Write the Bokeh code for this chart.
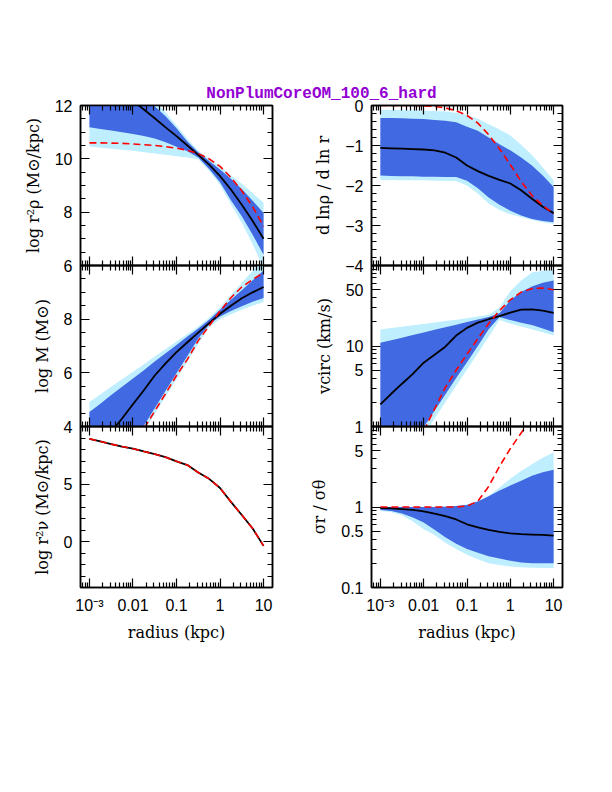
from bokeh.plotting import figure
from bokeh.models import (Range1d, FixedTicker, LinearAxis, LogAxis,
                          CustomJSTickFormatter, Label)
from bokeh.layouts import column, row
from bokeh.embed import file_html
from bokeh.resources import INLINE

TITLE = "NonPlumCoreOM_100_6_hard"

radius = [0.001, 0.00178, 0.00316, 0.00562, 0.01, 0.0178, 0.0316, 0.0562,
          0.1, 0.178, 0.316, 0.562, 1.0, 1.78, 3.16, 5.62, 10.0]

rho_med = [13.4, 13.1, 12.8, 12.5, 12.18, 11.85, 11.52, 11.18, 10.85, 10.5, 10.15, 9.78, 9.35, 8.85, 8.28, 7.67, 7.0]
rho_hi68 = [14.2, 13.9, 13.6, 13.3, 12.9, 12.4, 11.97, 11.6, 11.15, 10.65, 10.25, 9.92, 9.6, 9.25, 8.87, 8.43, 7.97]
rho_lo68 = [11.18, 11.12, 11.06, 11.0, 10.93, 10.86, 10.76, 10.62, 10.45, 10.28, 10.05, 9.62, 9.12, 8.45, 7.85, 7.15, 6.4]
rho_hi95 = [14.4, 14.1, 13.8, 13.5, 13.1, 12.6, 12.15, 11.75, 11.25, 10.75, 10.3, 10.0, 9.72, 9.38, 9.07, 8.72, 8.35]
rho_lo95 = [10.46, 10.42, 10.38, 10.34, 10.3, 10.25, 10.2, 10.15, 10.1, 10.05, 9.98, 9.55, 9.02, 8.3, 7.6, 6.8, 5.9]
rho_true = [10.6, 10.6, 10.59, 10.58, 10.56, 10.53, 10.5, 10.46, 10.4, 10.32, 10.2, 10.0, 9.72, 9.3, 8.8, 8.2, 7.47]

slope_med = [-1.06, -1.07, -1.08, -1.09, -1.1, -1.12, -1.18, -1.3, -1.5, -1.64, -1.76, -1.86, -1.95, -2.12, -2.33, -2.53, -2.69]
slope_hi68 = [-0.31, -0.31, -0.32, -0.33, -0.34, -0.36, -0.38, -0.42, -0.53, -0.63, -0.8, -0.97, -1.12, -1.3, -1.5, -1.75, -2.04]
slope_lo68 = [-1.75, -1.76, -1.77, -1.77, -1.78, -1.78, -1.79, -1.79, -1.88, -2.07, -2.3, -2.48, -2.63, -2.75, -2.84, -2.89, -2.92]
slope_hi95 = [-0.11, -0.11, -0.12, -0.12, -0.13, -0.14, -0.15, -0.18, -0.24, -0.33, -0.47, -0.6, -0.75, -0.98, -1.24, -1.55, -1.87]
slope_lo95 = [-1.86, -1.86, -1.87, -1.87, -1.87, -1.88, -1.88, -1.89, -2.0, -2.2, -2.45, -2.61, -2.72, -2.79, -2.86, -2.92, -2.96]
slope_true = [0.0, 0.0, 0.0, 0.0, -0.01, -0.02, -0.06, -0.13, -0.25, -0.44, -0.73, -1.08, -1.48, -1.9, -2.25, -2.5, -2.71]

mass_med = [2.8, 3.3, 3.8, 4.3, 4.83, 5.35, 5.9, 6.35, 6.77, 7.14, 7.5, 7.85, 8.2, 8.5, 8.78, 9.0, 9.2]
mass_hi68 = [4.54, 4.85, 5.17, 5.48, 5.79, 6.1, 6.42, 6.73, 7.04, 7.35, 7.65, 7.98, 8.35, 8.72, 9.08, 9.45, 9.81]
mass_lo68 = [0.8, 1.45, 2.1, 2.75, 3.4, 4.03, 4.68, 5.33, 5.98, 6.63, 7.28, 7.8, 8.1, 8.3, 8.48, 8.65, 8.79]
mass_hi95 = [4.91, 5.19, 5.48, 5.76, 6.04, 6.32, 6.61, 6.89, 7.17, 7.45, 7.73, 8.05, 8.45, 8.9, 9.35, 9.8, 10.3]
mass_lo95 = [0.57, 1.22, 1.87, 2.52, 3.17, 3.83, 4.47, 5.12, 5.77, 6.42, 7.07, 7.7, 8.0, 8.18, 8.35, 8.5, 8.64]
mass_true = [0.4, 1.15, 1.9, 2.6, 3.25, 3.92, 4.57, 5.23, 5.9, 6.5, 7.2, 7.75, 8.3, 8.8, 9.2, 9.48, 9.73]

vc_med = [1.88, 2.55, 3.4, 4.5, 6.2, 7.8, 9.8, 13.5, 16.8, 19.5, 21.5, 23.5, 26.0, 28.3, 28.5, 27.5, 25.8]
vc_hi68 = [11.0, 11.8, 12.7, 13.7, 14.7, 15.9, 17.1, 18.4, 19.8, 21.3, 22.9, 25.5, 37.0, 47.0, 55.0, 61.0, 65.0]
vc_lo68 = [0.155, 0.25, 0.39, 0.62, 0.98, 1.57, 2.5, 4.0, 6.3, 10.0, 16.2, 23.0, 21.0, 19.5, 18.2, 16.5, 14.8]
vc_hi95 = [16.0, 16.7, 17.4, 18.1, 18.8, 19.6, 20.4, 21.2, 22.1, 23.2, 24.5, 30.0, 48.0, 65.0, 82.0, 86.0, 88.0]
vc_lo95 = [0.12, 0.19, 0.31, 0.49, 0.78, 1.25, 2.0, 3.2, 5.1, 8.1, 13.0, 21.0, 19.0, 17.5, 16.2, 14.8, 13.5]
vc_true = [0.07, 0.13, 0.25, 0.47, 0.88, 1.65, 3.05, 5.0, 7.9, 12.3, 19.0, 27.5, 37.5, 46.6, 51.5, 52.5, 50.0]

nu_med = [8.93, 8.7, 8.47, 8.26, 8.07, 7.83, 7.6, 7.33, 6.97, 6.65, 6.0, 5.45, 4.65, 3.45, 2.3, 1.13, -0.38]
nu_true = [8.93, 8.7, 8.47, 8.26, 8.07, 7.83, 7.6, 7.33, 6.97, 6.65, 6.0, 5.45, 4.65, 3.45, 2.3, 1.13, -0.38]

beta_med = [0.97, 0.96, 0.94, 0.92, 0.88, 0.83, 0.77, 0.7, 0.61, 0.56, 0.52, 0.49, 0.47, 0.46, 0.455, 0.45, 0.44]
beta_hi68 = [1.0, 1.0, 1.0, 1.0, 1.0, 1.0, 1.01, 1.03, 1.06, 1.17, 1.36, 1.6, 1.85, 2.12, 2.45, 2.7, 2.9]
beta_lo68 = [0.92, 0.89, 0.83, 0.74, 0.64, 0.52, 0.42, 0.35, 0.3, 0.27, 0.245, 0.23, 0.215, 0.205, 0.2, 0.2, 0.2]
beta_hi95 = [1.0, 1.0, 1.0, 1.0, 1.01, 1.01, 1.02, 1.04, 1.08, 1.2, 1.38, 1.75, 2.25, 2.8, 3.4, 4.1, 4.8]
beta_lo95 = [0.9, 0.86, 0.79, 0.66, 0.53, 0.45, 0.36, 0.3, 0.255, 0.225, 0.2, 0.19, 0.182, 0.178, 0.176, 0.175, 0.175]
beta_true = [1.0, 1.0, 1.0, 1.0, 1.0, 1.0, 1.0, 1.0, 1.03, 1.18, 1.8, 3.2, 5.3, 8.3, 13.0, 20.0, 30.0]

x_major = [0.001, 0.01, 0.1, 1.0, 10.0]
x_labels = ["10\u207b\u00b3", "0.01", "0.1", "1", "10"]

DARK = "#4169e1"
LIGHT = "#bfefff"
TICK_FONT = "Liberation Sans"
LABEL_FONT = "DejaVu Serif"

x_minor = []
for d in range(-4, 2):
    for k in range(2, 10):
        v = k * 10.0 ** d
        if 10 ** -3.205 < v < 10 ** 1.205:
            x_minor.append(v)


def style_axis(ax, major, minor, labels=None, standoff=8):
    ax.ticker = FixedTicker(ticks=major, minor_ticks=minor)
    ax.major_tick_in = 9
    ax.major_tick_out = 0
    ax.minor_tick_in = 5
    ax.minor_tick_out = 0
    ax.axis_line_color = "black"
    ax.axis_line_width = 1.5
    ax.major_tick_line_color = "black"
    ax.minor_tick_line_color = "black"
    ax.major_tick_line_width = 1.2
    ax.minor_tick_line_width = 1.2
    if labels is None:
        ax.formatter = CustomJSTickFormatter(code="return ''")
        ax.major_label_standoff = 0
    else:
        ax.major_label_overrides = {m: s for m, s in zip(major, labels)}
        ax.major_label_standoff = standoff
        ax.major_label_text_font = TICK_FONT
        ax.major_label_text_font_size = "16px"
        ax.major_label_text_color = "black"
    ax.axis_label_text_font = LABEL_FONT
    ax.axis_label_text_font_size = "16px"
    ax.axis_label_text_font_style = "normal"
    ax.axis_label_text_color = "black"


def panel(col, rix, ylog, yrange, ymajor, yminor, ylabels, ylabel, margin_top):
    left = col == 0
    bottom = rix == 2
    p = figure(frame_width=192 if left else 191,
               frame_height=[160, 161, 161][rix],
               min_border_left=80 if left else 70,
               min_border_right=29 if left else 30,
               min_border_top=30,
               min_border_bottom=60 if bottom else 30,
               x_axis_type="log", y_axis_type="log" if ylog else "linear",
               x_range=Range1d(10 ** -3.205, 10 ** 1.205),
               y_range=Range1d(*yrange),
               toolbar_location=None, output_backend="svg",
               margin=(margin_top, 0, 0, 0))
    p.border_fill_alpha = 0
    p.background_fill_alpha = 0
    p.outline_line_color = "black"
    p.outline_line_width = 1.5
    p.grid.visible = False
    p.add_layout(LogAxis(), "above")
    p.add_layout(LogAxis() if ylog else LinearAxis(), "right")
    style_axis(p.below[0], x_major, x_minor, x_labels if bottom else None, standoff=9)
    style_axis(p.above[0], x_major, x_minor, None)
    style_axis(p.left[0], ymajor, yminor, ylabels, standoff=8)
    style_axis(p.right[0], ymajor, yminor, None)
    p.left[0].axis_label = ylabel
    p.left[0].axis_label_standoff = 9
    if bottom:
        p.below[0].axis_label = "radius (kpc)"
        p.below[0].axis_label_standoff = 6
    return p


def draw(p, med, true, lo95=None, hi95=None, lo68=None, hi68=None):
    if lo95 is not None:
        p.varea(x=radius, y1=lo95, y2=hi95, fill_color=LIGHT, fill_alpha=1.0)
        p.varea(x=radius, y1=lo68, y2=hi68, fill_color=DARK, fill_alpha=1.0)
    p.line(radius, med, line_color="black", line_width=1.8)
    p.line(radius, true, line_color="#ff0000", line_width=1.6, line_dash="7 4")


tfig = figure(width=600, height=105, toolbar_location=None, output_backend="svg",
              x_axis_location=None, y_axis_location=None, min_border=0,
              x_range=Range1d(0, 1), y_range=Range1d(0, 1))
tfig.outline_line_color = None
tfig.border_fill_alpha = 0
tfig.background_fill_alpha = 0
tfig.grid.visible = False
tfig.add_layout(Label(x=321, y=12, x_units="screen", y_units="screen", text=TITLE,
                      text_align="center", text_baseline="middle",
                      text_font="Liberation Mono", text_font_style="bold",
                      text_font_size="16px", text_color="#9400d3"))

p1 = panel(0, 0, False, (6, 12), [6, 8, 10, 12], [x * 0.5 for x in range(12, 25)],
           ["6", "8", "10", "12"], "log r\u00b2\u03c1 (M\u2299/kpc)", -30)
draw(p1, rho_med, rho_true, rho_lo95, rho_hi95, rho_lo68, rho_hi68)

p2 = panel(0, 1, False, (4, 10), [4, 6, 8], [x * 0.5 for x in range(8, 21)],
           ["4", "6", "8"], "log M (M\u2299)", -60)
draw(p2, mass_med, mass_true, mass_lo95, mass_hi95, mass_lo68, mass_hi68)

p3 = panel(0, 2, False, (-4, 10), [0, 5], list(range(-4, 11)),
           ["0", "5"], "log r\u00b2\u03bd (M\u2299/kpc)", -60)
draw(p3, nu_med, nu_true)

q1 = panel(1, 0, False, (-4, 0), [-4, -3, -2, -1, 0], [round(-4 + 0.2 * i, 1) for i in range(21)],
           ["\u22124", "\u22123", "\u22122", "\u22121", "0"], "d ln\u03c1 / d ln r", -30)
draw(q1, slope_med, slope_true, slope_lo95, slope_hi95, slope_lo68, slope_hi68)

log_minor = [2, 3, 4, 6, 7, 8, 9, 20, 30, 40, 60, 70, 80, 90]
q2 = panel(1, 1, True, (1, 100), [1, 5, 10, 50], log_minor,
           ["1", "5", "10", "50"], "vcirc (km/s)", -60)
draw(q2, vc_med, vc_true, vc_lo95, vc_hi95, vc_lo68, vc_hi68)

q3 = panel(1, 2, True, (0.1, 10), [0.1, 0.5, 1, 5], [0.2, 0.3, 0.4, 0.6, 0.7, 0.8, 0.9, 2, 3, 4, 6, 7, 8, 9],
           ["0.1", "0.5", "1", "5"], "\u03c3r / \u03c3\u03b8", -60)
draw(q3, beta_med, beta_true, beta_lo95, beta_hi95, beta_lo68, beta_hi68)

layout = column(tfig, row(column(p1, p2, p3), column(q1, q2, q3)))

open("out.html", "w").write(file_html(layout, INLINE, title=TITLE))
